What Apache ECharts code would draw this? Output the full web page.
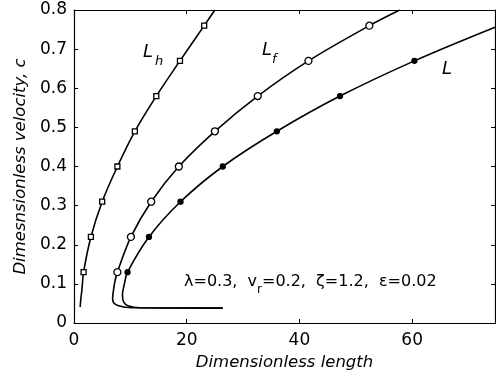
<!DOCTYPE html>
<html>
<head>
<meta charset="utf-8">
<script src="https://cdn.jsdelivr.net/npm/echarts@6/dist/echarts.min.js"></script>
<style>
  html, body { margin: 0; padding: 0; background: #fff; }
  #chart { width: 496px; height: 382px; }
</style>
</head>
<body>
<div id="chart"></div>
<script>
// curves (x = dimensionless length, c = velocity)
const lhX = [1.1, 1.2, 1.4, 1.7, 3.0, 5.0, 7.7, 10.8, 14.6, 18.8, 23.1, 25.0]
const lhC = [0.041, 0.06, 0.084, 0.13, 0.22, 0.31, 0.40, 0.49, 0.58, 0.67, 0.76, 0.80]

const lfX = [26.4, 11.1, 8.8, 7.3, 6.85, 6.9, 7.2, 7.7, 10.1, 13.7, 18.6, 25.0, 32.6, 41.6, 52.4, 57.8]
const lfC = [0.038, 0.039, 0.041, 0.048, 0.062, 0.072, 0.102, 0.13, 0.22, 0.31, 0.40, 0.49, 0.58, 0.67, 0.76, 0.80]

const lX = [26.4, 11.7, 9.6, 8.8, 8.6, 8.9, 9.5, 13.3, 18.9, 26.4, 36.0, 47.2, 60.4, 74.7]
const lC = [0.038, 0.039, 0.044, 0.054, 0.072, 0.097, 0.13, 0.22, 0.31, 0.40, 0.49, 0.58, 0.67, 0.756]

// marker positions
const markC = [0.13, 0.22, 0.31, 0.40, 0.49, 0.58, 0.67, 0.76]
const lhMarkX = [1.7, 3.0, 5.0, 7.7, 10.8, 14.6, 18.8, 23.1]
const lfMarkX = [7.7, 10.1, 13.7, 18.6, 25.0, 32.6, 41.6, 52.4]
const lMarkX = [9.5, 13.3, 18.9, 26.4, 36.0, 47.2, 60.4]

const xTicks = { min: 0, max: 74.7, interval: 20 }
const yTicks = { min: 0, max: 0.8, interval: 0.1 }

const FONT = '"DejaVu Sans", sans-serif'
const pair = (xs, ys) => xs.map((x, i) => [x, ys[i]])

const axisLine = { show: true, onZero: false, lineStyle: { color: '#000', width: 1.2 } }
const axisTick = { show: true, inside: true, length: 4, lineStyle: { color: '#000', width: 1 } }

const chart = echarts.init(document.getElementById('chart'), null, { renderer: 'canvas' })

function curve(name, xs, ys) {
  return {
    name, type: 'line', data: pair(xs, ys), smooth: 0.35,
    showSymbol: false, silent: true,
    lineStyle: { color: '#000', width: 1.6 },
  }
}

function marks(name, xs, symbol, size, fill) {
  return {
    name: name + '-m', type: 'scatter', data: pair(xs, markC.slice(0, xs.length)),
    symbol, symbolSize: size, z: 5,
    itemStyle: { color: fill, borderColor: '#000', borderWidth: 1.3, opacity: 1 },
  }
}

chart.setOption({
  backgroundColor: '#fff',
  animation: false,
  grid: { left: 74, right: 1, top: 10, bottom: 59 },
  xAxis: [
    {
      type: 'value', position: 'bottom', ...xTicks,
      name: 'Dimensionless length', nameLocation: 'middle', nameGap: 24,
      nameTextStyle: { fontFamily: FONT, fontStyle: 'italic', fontSize: 16.5, color: '#000' },
      axisLine, axisTick,
      axisLabel: { color: '#000', fontFamily: FONT, fontSize: 17, margin: 9, showMaxLabel: false },
      splitLine: { show: false },
    },
    {
      type: 'value', position: 'top', ...xTicks,
      axisLine, axisTick, axisLabel: { show: false }, splitLine: { show: false },
    },
  ],
  yAxis: [
    {
      type: 'value', position: 'left', ...yTicks,
      name: 'Dimesnsionless velocity, c', nameLocation: 'middle', nameGap: 38,
      nameTextStyle: { fontFamily: FONT, fontStyle: 'italic', fontSize: 16.5, color: '#000' },
      axisLine, axisTick,
      axisLabel: { color: '#000', fontFamily: FONT, fontSize: 17, margin: 7 },
      splitLine: { show: false },
    },
    {
      type: 'value', position: 'right', ...yTicks,
      axisLine, axisTick, axisLabel: { show: false }, splitLine: { show: false },
    },
  ],
  series: [
    curve('Lh', lhX, lhC),
    curve('Lf', lfX, lfC),
    curve('L', lX, lC),
    marks('Lh', lhMarkX, 'rect', 5, '#fff'),
    marks('Lf', lfMarkX, 'circle', 7, '#fff'),
    marks('L', lMarkX, 'circle', 5, '#000'),
  ],
  graphic: [
    { type: 'text', x: 143, y: 52, style: { text: 'L', font: 'italic 18px ' + FONT, fill: '#000', textAlign: 'left', textVerticalAlign: 'middle' } },
    { type: 'text', x: 155, y: 62, style: { text: 'h', font: 'italic 13px ' + FONT, fill: '#000', textAlign: 'left', textVerticalAlign: 'middle' } },
    { type: 'text', x: 262, y: 50, style: { text: 'L', font: 'italic 18px ' + FONT, fill: '#000', textAlign: 'left', textVerticalAlign: 'middle' } },
    { type: 'text', x: 272, y: 60, style: { text: 'f', font: 'italic 13px ' + FONT, fill: '#000', textAlign: 'left', textVerticalAlign: 'middle' } },
    { type: 'text', x: 442, y: 69, style: { text: 'L', font: 'italic 18px ' + FONT, fill: '#000', textAlign: 'left', textVerticalAlign: 'middle' } },
    {
      type: 'text', x: 184, y: 274,
      style: {
        text: '{m|λ=0.3,  v}{s|r}{m|=0.2,  ζ=1.2,  ε=0.02}',
        textAlign: 'left', textVerticalAlign: 'top', fill: '#000',
        rich: {
          m: { fontFamily: FONT, fontSize: 16, lineHeight: 22, verticalAlign: 'top', color: '#000' },
          s: { fontFamily: FONT, fontSize: 12, lineHeight: 8, verticalAlign: 'bottom', color: '#000' },
        },
      },
    },
  ],
})
</script>
</body>
</html>
